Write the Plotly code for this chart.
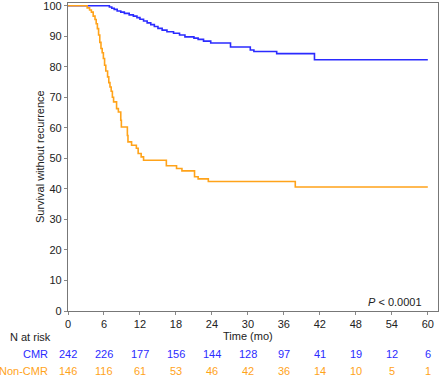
import plotly.graph_objects as go

# Kaplan-Meier step data (time in months, survival %)
cmr_time = [0, 6.9, 7.3, 7.7, 8.2, 8.8, 9.4, 10.2, 10.9, 11.5, 12.0, 12.6, 13.2, 13.8, 14.4, 15.0,
            15.7, 16.5, 17.6, 18.6, 19.5, 21.0, 21.7, 22.6, 23.8, 27.1, 30.4, 31.0, 34.8, 41.1, 60]
cmr_surv = [100, 99.6, 99.2, 98.8, 98.3, 97.9, 97.5, 97.0, 96.6, 96.1, 95.6, 95.0, 94.4, 93.8, 93.2, 92.6,
            92.0, 91.5, 91.0, 90.4, 89.8, 89.4, 89.0, 88.4, 87.8, 86.5, 85.5, 85.0, 84.3, 82.3, 82.3]

non_time = [0, 3.2, 3.6, 3.9, 4.2, 4.5, 4.7, 4.9, 5.1, 5.3, 5.5, 5.7, 5.9, 6.1, 6.3, 6.6, 6.8, 7.0,
            7.2, 7.4, 7.6, 8.1, 8.4, 8.8, 8.9, 9.9, 10.0, 10.6, 11.4, 11.7, 12.2, 12.6, 16.4, 18.1,
            19.0, 21.1, 21.7, 23.4, 37.9, 60]
non_surv = [100, 99.3, 98.6, 97.9, 96.6, 95.5, 94.1, 92.5, 90.4, 88.0, 86.0, 84.6, 82.7, 80.5, 78.6,
            76.7, 74.8, 73.4, 72.0, 70.0, 68.5, 66.3, 65.2, 62.5, 60.3, 57.5, 55.4, 54.3, 53.3, 51.6,
            50.5, 49.4, 47.6, 46.7, 45.9, 44.0, 43.3, 42.4, 40.6, 40.6]

risk_times = [0, 6, 12, 18, 24, 30, 36, 42, 48, 54, 60]
risk_cmr = [242, 226, 177, 156, 144, 128, 97, 41, 19, 12, 6]
risk_non = [146, 116, 61, 53, 46, 42, 36, 14, 10, 5, 1]

BLUE = "#2b2bff"
ORANGE = "#ffa31a"
TXT = "#222222"
FONT = "Liberation Sans, Arial, sans-serif"

# plot area geometry (pixels)
L, R, T, B = 68, 2, 3, 67
PW = 440 - L - R
PH = 378 - T - B


def px_x(px):
    return (px - L) / PW


def px_y(py):
    return (378 - B - py) / PH


fig = go.Figure()
fig.add_trace(go.Scatter(x=cmr_time, y=cmr_surv, mode="lines", line=dict(color=BLUE, width=1.6, shape="hv"),
                         showlegend=False, hoverinfo="skip"))
fig.add_trace(go.Scatter(x=non_time, y=non_surv, mode="lines", line=dict(color=ORANGE, width=1.6, shape="hv"),
                         showlegend=False, hoverinfo="skip"))

ann = []
ann.append(dict(text="Survival without recurrence", xref="paper", x=px_x(40), yref="paper", y=0.5,
                textangle=-90, showarrow=False, xanchor="center", yanchor="middle",
                font=dict(size=11, color=TXT)))
ann.append(dict(text="Time (mo)", xref="paper", x=px_x(248), yref="paper", y=px_y(336),
                showarrow=False, xanchor="center", yanchor="middle", font=dict(size=11, color=TXT)))
ann.append(dict(text="N at risk", xref="paper", x=px_x(8), yref="paper", y=px_y(337),
                showarrow=False, xanchor="left", yanchor="middle", font=dict(size=11, color=TXT)))
ann.append(dict(text="CMR", xref="paper", x=px_x(50), yref="paper", y=px_y(354), showarrow=False,
                xanchor="right", yanchor="middle", font=dict(size=11, color=BLUE)))
ann.append(dict(text="Non-CMR", xref="paper", x=px_x(50), yref="paper", y=px_y(370.5), showarrow=False,
                xanchor="right", yanchor="middle", font=dict(size=11, color=ORANGE)))
for t, a, b in zip(risk_times, risk_cmr, risk_non):
    ann.append(dict(text=str(a), x=t, xref="x", y=px_y(354), yref="paper", showarrow=False,
                    xanchor="center", yanchor="middle", font=dict(size=11, color=BLUE)))
    ann.append(dict(text=str(b), x=t, xref="x", y=px_y(370.5), yref="paper", showarrow=False,
                    xanchor="center", yanchor="middle", font=dict(size=11, color=ORANGE)))
ann.append(dict(text="<i>P</i> < 0.0001", xref="paper", x=px_x(424), yref="paper", y=px_y(301.5),
                showarrow=False, xanchor="right", yanchor="middle", font=dict(size=11, color=TXT)))

fig.update_layout(
    width=440, height=378,
    margin=dict(l=L, r=R, t=T, b=B, autoexpand=False),
    paper_bgcolor="white", plot_bgcolor="white",
    font=dict(family=FONT, size=11, color=TXT),
    annotations=ann,
    xaxis=dict(range=[0, 61.7], tickvals=risk_times, ticks="outside", ticklen=3, tickcolor="#888",
               showline=True, linecolor="#777", linewidth=1.2, mirror=True, showgrid=False, zeroline=False,
               automargin=False, ticklabeloverflow="allow", tickfont=dict(size=11, color=TXT)),
    yaxis=dict(range=[0, 100.9], tickvals=list(range(0, 101, 10)), ticks="outside", ticklen=3,
               tickcolor="#888", showline=True, linecolor="#777", linewidth=1.2, mirror=True,
               showgrid=False, zeroline=False, automargin=False, ticklabeloverflow="allow",
               tickfont=dict(size=11, color=TXT)),
)

fig.write_html("out.html", config={"displayModeBar": False},
               post_script="document.body.style.margin='0';document.body.style.overflow='hidden';")
